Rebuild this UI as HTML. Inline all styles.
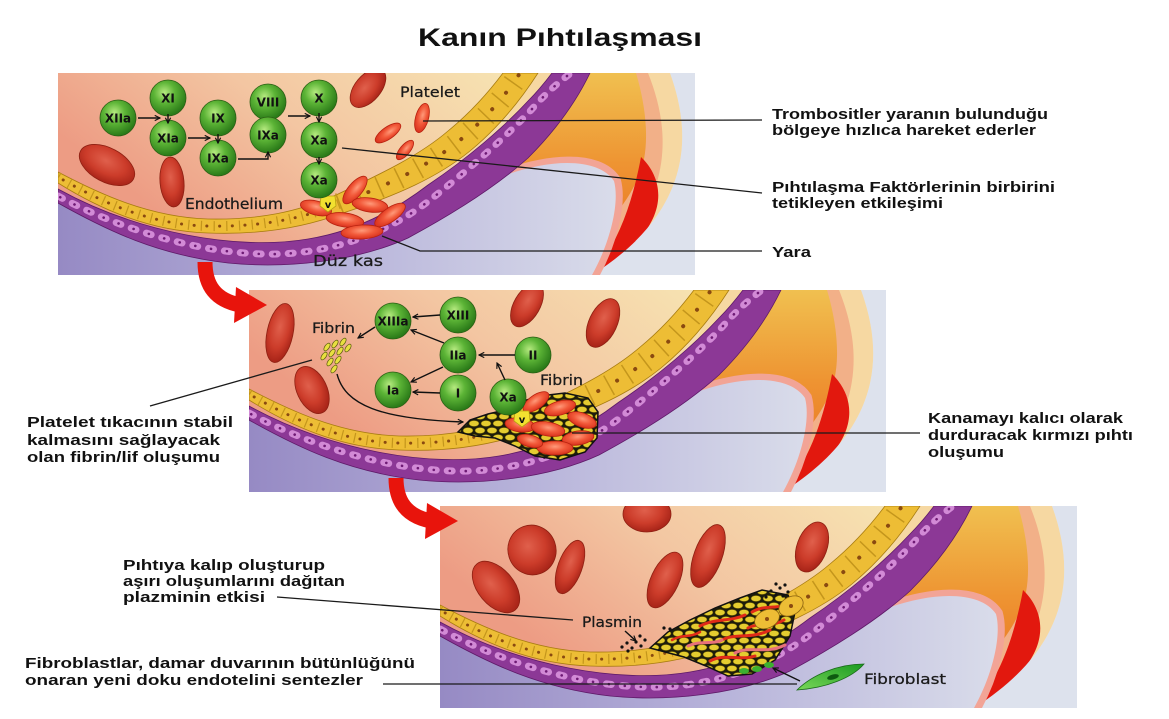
<!DOCTYPE html>
<html><head><meta charset="utf-8"><style>
html,body{margin:0;padding:0;background:#fff;}
svg{display:block;}
.t{font-family:"Liberation Sans","DejaVu Sans",sans-serif;font-weight:bold;font-size:15px;fill:#111;}
.l{font-family:"DejaVu Sans","Liberation Sans",sans-serif;fill:#1a1a1a;stroke:#1a1a1a;stroke-width:0.25;}
.f{font-family:"DejaVu Sans","Liberation Sans",sans-serif;font-weight:bold;font-size:12px;fill:#111;text-anchor:middle;}
.c{fill:url(#grn);stroke:#2b5e14;stroke-width:0.8;}
.r{fill:url(#rbc);stroke:#8e2012;stroke-width:0.8;}
.p{fill:url(#plt);stroke:#b8220f;stroke-width:0.8;}
.k{stroke:#1a1a1a;stroke-width:1.3;fill:none;}
.a{stroke:#111;stroke-width:1.4;fill:none;marker-end:url(#ah);}
</style></head><body>
<svg width="1169" height="719" viewBox="0 0 1169 719" xmlns="http://www.w3.org/2000/svg">
<defs>
<linearGradient id="lum" x1="0" y1="0.3" x2="0.75" y2="0"><stop offset="0" stop-color="#ed9c84"/><stop offset="0.45" stop-color="#f3c6a2"/><stop offset="1" stop-color="#f7e6b3"/></linearGradient>
<linearGradient id="low" x1="0" y1="0" x2="1" y2="0"><stop offset="0" stop-color="#968ac4"/><stop offset="0.5" stop-color="#b7b3da"/><stop offset="1" stop-color="#d9dcea"/></linearGradient>
<linearGradient id="org" x1="0" y1="0" x2="0" y2="1"><stop offset="0" stop-color="#f0c050"/><stop offset="0.45" stop-color="#ee9432"/><stop offset="1" stop-color="#e86a20"/></linearGradient>
<radialGradient id="rbc" cx="0.45" cy="0.4" r="0.6"><stop offset="0" stop-color="#e0604c"/><stop offset="0.6" stop-color="#cc3c2a"/><stop offset="1" stop-color="#a82418"/></radialGradient>
<radialGradient id="plt" cx="0.5" cy="0.4" r="0.6"><stop offset="0" stop-color="#ff9a7a"/><stop offset="0.5" stop-color="#f25a3a"/><stop offset="1" stop-color="#d8301c"/></radialGradient>
<radialGradient id="grn" cx="0.4" cy="0.35" r="0.65"><stop offset="0" stop-color="#b6ea80"/><stop offset="0.45" stop-color="#5cb436"/><stop offset="1" stop-color="#2a7a18"/></radialGradient>
<linearGradient id="fib" x1="0" y1="1" x2="1" y2="0"><stop offset="0" stop-color="#7ad85a"/><stop offset="1" stop-color="#1a9a20"/></linearGradient>
<pattern id="cp" width="12" height="14" patternUnits="userSpaceOnUse">
<rect width="12" height="14" fill="#1c1c0c"/>
<ellipse cx="6" cy="3.5" rx="5" ry="3" fill="#e4cc30" stroke="#6a5a00" stroke-width="0.5"/>
<ellipse cx="0" cy="10.5" rx="5" ry="3" fill="#e4cc30" stroke="#6a5a00" stroke-width="0.5"/>
<ellipse cx="12" cy="10.5" rx="5" ry="3" fill="#e4cc30" stroke="#6a5a00" stroke-width="0.5"/>
</pattern>
<marker id="ah" viewBox="0 0 8 8" refX="7" refY="4" markerWidth="7" markerHeight="7" orient="auto" markerUnits="userSpaceOnUse">
<path d="M1,1 L7,4 L1,7" fill="none" stroke="#111" stroke-width="1.3"/>
</marker>
<clipPath id="c1"><rect x="58" y="73" width="637" height="202"/></clipPath>
<clipPath id="c2"><rect x="249" y="290" width="637" height="202"/></clipPath>
<clipPath id="c3"><rect x="440" y="506" width="637" height="202"/></clipPath>
<clipPath id="cl"><rect x="0" y="0" width="637" height="202"/></clipPath>
<g id="bg" clip-path="url(#cl)">
<rect width="637" height="202" fill="url(#lum)"/>
<path d="M470,0 L612,0 C632,55 640,135 534,202 L380,202 Z" fill="#f6d8a2"/>
<path d="M500,0 L590,0 C612,55 620,128 534,202 L380,202 Z" fill="#f2b088"/>
<path d="M500,0 L578,0 C590,40 592,80 580,105 C560,150 520,180 470,202 L380,202 Z" fill="url(#org)"/>
<path d="M583,84 C612,112 610,160 534,202 C560,170 574,132 583,84 Z" fill="#e2180e"/>
<path d="M612,0 C632,55 640,135 534,202 L637,202 L637,0 Z" fill="#dde2ed"/>
<path d="M430,110 C490,85 540,84 556,108 C562,130 552,170 534,202" fill="none" stroke="#f2a496" stroke-width="14"/>
<path d="M0,122 C90,175 200,195 290,178 C350,160 400,120 440,105 C490,85 540,84 556,108 C562,130 552,170 534,202 L0,202 Z" fill="url(#low)"/>
<path d="M0,99 C40,120 90,144 150,146 C200,147 240,139 278,122 C325,100 362,82 390,58 C412,40 430,20 445,0 L480,0 C462,28 440,55 412,78 C380,104 340,122 285,140 C245,155 200,162 150,160 C90,158 40,135 0,110 Z" fill="#edbd35" stroke="#a87c10" stroke-width="0.8"/>
<path d="M0,104 C40,127 90,152 150,153 C200,154 240,147 281,131" fill="none" stroke="#c4961c" stroke-width="10" stroke-dasharray="1.2 11.5"/>
<path d="M0,104 C40,127 90,152 150,153 C200,154 240,147 281,131" fill="none" stroke="#8a4a10" stroke-width="3" stroke-linecap="round" stroke-dasharray="0.1 12.6" stroke-dashoffset="-6"/>
<path d="M281,131 C332,111 370,93 401,68 C425,48 446,25 462,0" fill="none" stroke="#c4961c" stroke-width="22" stroke-dasharray="1.5 20"/>
<path d="M281,131 C332,111 370,93 401,68 C425,48 446,25 462,0" fill="none" stroke="#8a4a10" stroke-width="4" stroke-linecap="round" stroke-dasharray="0.1 21.4" stroke-dashoffset="-10"/>
<path d="M0,116 C80,160 180,178 250,166 C300,158 340,135 370,112 C410,85 445,55 470,28 C480,18 488,8 494,0 L532,0 C520,25 500,55 470,85 C440,112 400,138 350,165 C300,188 230,196 170,190 C100,182 50,158 0,130 Z" fill="#8c3896" stroke="#5e1a68" stroke-width="0.8"/>
<path d="M0,123 C80,166 180,190 252,178 C305,170 345,148 372,127 C410,97 448,64 474,36 C488,20 502,8 513,0" fill="none" stroke="#d28ad6" stroke-width="7" stroke-linecap="round" stroke-dasharray="5 11"/>
<path d="M0,123 C80,166 180,190 252,178 C305,170 345,148 372,127 C410,97 448,64 474,36 C488,20 502,8 513,0" fill="none" stroke="#6e1a74" stroke-width="2.6" stroke-linecap="round" stroke-dasharray="0.1 15.9" stroke-dashoffset="-2.5"/>
</g>
</defs>

<!-- Title -->
<text x="418" y="46" font-family="Liberation Sans, DejaVu Sans, sans-serif" font-weight="bold" font-size="25" fill="#111" textLength="284" lengthAdjust="spacingAndGlyphs">Kanın Pıhtılaşması</text>

<!-- Panels backgrounds -->
<use href="#bg" x="58" y="73"/>
<use href="#bg" x="249" y="290"/>
<use href="#bg" x="440" y="506"/>

<!-- Panel 1 -->
<g clip-path="url(#c1)">
<ellipse class="r" cx="107" cy="165" rx="30" ry="17" transform="rotate(28 107 165)"/>
<ellipse class="r" cx="172" cy="182" rx="12" ry="25" transform="rotate(-5 172 182)"/>
<ellipse class="r" cx="368" cy="88" rx="23" ry="13" transform="rotate(-50 368 88)"/>
<ellipse class="p" cx="422" cy="118" rx="6.5" ry="15" transform="rotate(15 422 118)"/>
<ellipse class="p" cx="388" cy="133" rx="6" ry="15" transform="rotate(55 388 133)"/>
<ellipse class="p" cx="405" cy="150" rx="5" ry="12" transform="rotate(40 405 150)"/>
<ellipse class="p" cx="355" cy="190" rx="7" ry="17" transform="rotate(40 355 190)"/>
<ellipse class="p" cx="316" cy="208" rx="16" ry="7" transform="rotate(15 316 208)"/>
<ellipse class="p" cx="370" cy="205" rx="18" ry="7" transform="rotate(8 370 205)"/>
<ellipse class="p" cx="345" cy="220" rx="19" ry="7" transform="rotate(8 345 220)"/>
<ellipse class="p" cx="390" cy="215" rx="7" ry="18" transform="rotate(55 390 215)"/>
<ellipse class="p" cx="362" cy="232" rx="21" ry="7" transform="rotate(-3 362 232)"/>
<polygon points="321,196 335,196 336,206 328,212 320,206" fill="#f2e030" stroke="#b8a010" stroke-width="0.8"/>
<text x="328" y="208" font-family="DejaVu Sans, sans-serif" font-weight="bold" font-size="10" text-anchor="middle" fill="#111">v</text>
<circle class="c" cx="118" cy="118" r="18"/><text class="f" x="118" y="122.5">XIIa</text>
<circle class="c" cx="168" cy="98" r="18"/><text class="f" x="168" y="102.5">XI</text>
<circle class="c" cx="168" cy="138" r="18"/><text class="f" x="168" y="142.5">XIa</text>
<circle class="c" cx="218" cy="118" r="18"/><text class="f" x="218" y="122.5">IX</text>
<circle class="c" cx="218" cy="158" r="18"/><text class="f" x="218" y="162.5">IXa</text>
<circle class="c" cx="268" cy="102" r="18"/><text class="f" x="268" y="106.5">VIII</text>
<circle class="c" cx="268" cy="135" r="18"/><text class="f" x="268" y="139.5">IXa</text>
<circle class="c" cx="319" cy="98" r="18"/><text class="f" x="319" y="102.5">X</text>
<circle class="c" cx="319" cy="140" r="18"/><text class="f" x="319" y="144.5">Xa</text>
<circle class="c" cx="319" cy="180" r="18"/><text class="f" x="319" y="184.5">Xa</text>
<path class="a" d="M138,118 L160,118"/>
<path class="a" d="M168,114 L168,123"/>
<path class="a" d="M188,138 L210,138"/>
<path class="a" d="M218,134 L218,143"/>
<path class="a" d="M238,159 L268,159 L268,152"/>
<path class="a" d="M288,116 L310,116"/>
<path class="a" d="M319,113 L319,122"/>
<path class="a" d="M319,157 L319,164"/>
<text class="l" x="400" y="97" font-size="14.5" textLength="60" lengthAdjust="spacingAndGlyphs">Platelet</text>
<text class="l" x="185" y="209" font-size="15.5" textLength="98" lengthAdjust="spacingAndGlyphs">Endothelium</text>
<text class="l" x="313" y="266" font-size="15" textLength="70" lengthAdjust="spacingAndGlyphs">Düz kas</text>
</g>

<!-- Panel 2 -->
<g clip-path="url(#c2)">
<ellipse class="r" cx="280" cy="333" rx="13" ry="30" transform="rotate(12 280 333)"/>
<ellipse class="r" cx="312" cy="390" rx="15" ry="25" transform="rotate(-25 312 390)"/>
<ellipse class="r" cx="527" cy="305" rx="13" ry="24" transform="rotate(30 527 305)"/>
<ellipse class="r" cx="603" cy="323" rx="14" ry="26" transform="rotate(25 603 323)"/>
<polygon points="458,432 470,420 488,414 505,410 520,402 540,396 565,393 588,398 598,412 597,438 585,452 560,460 535,456 515,446 495,438 475,436" fill="url(#cp)" stroke="#111" stroke-width="1.5"/>
<ellipse class="p" cx="536" cy="402" rx="15" ry="7" transform="rotate(-35 536 402)"/>
<ellipse class="p" cx="560" cy="408" rx="16" ry="7" transform="rotate(-15 560 408)"/>
<ellipse class="p" cx="582" cy="420" rx="15" ry="7" transform="rotate(20 582 420)"/>
<ellipse class="p" cx="520" cy="425" rx="15" ry="7" transform="rotate(8 520 425)"/>
<ellipse class="p" cx="548" cy="429" rx="17" ry="7" transform="rotate(10 548 429)"/>
<ellipse class="p" cx="578" cy="438" rx="16" ry="7" transform="rotate(-8 578 438)"/>
<ellipse class="p" cx="555" cy="448" rx="18" ry="7"/>
<ellipse class="p" cx="530" cy="441" rx="13" ry="6" transform="rotate(15 530 441)"/>
<polygon points="515,411 529,411 530,421 522,427 514,421" fill="#f2e030" stroke="#b8a010" stroke-width="0.8"/>
<text x="522" y="423" font-family="DejaVu Sans, sans-serif" font-weight="bold" font-size="10" text-anchor="middle" fill="#111">v</text>
<g fill="#e8e040" stroke="#5a5a10" stroke-width="0.7">
<ellipse cx="327" cy="347" rx="4.5" ry="2.2" transform="rotate(-55 327 347)"/>
<ellipse cx="335" cy="344" rx="4.5" ry="2.2" transform="rotate(-55 335 344)"/>
<ellipse cx="343" cy="342" rx="4.5" ry="2.2" transform="rotate(-55 343 342)"/>
<ellipse cx="324" cy="356" rx="4.5" ry="2.2" transform="rotate(-55 324 356)"/>
<ellipse cx="332" cy="353" rx="4.5" ry="2.2" transform="rotate(-55 332 353)"/>
<ellipse cx="340" cy="351" rx="4.5" ry="2.2" transform="rotate(-55 340 351)"/>
<ellipse cx="348" cy="348" rx="4.5" ry="2.2" transform="rotate(-55 348 348)"/>
<ellipse cx="330" cy="362" rx="4.5" ry="2.2" transform="rotate(-55 330 362)"/>
<ellipse cx="338" cy="360" rx="4.5" ry="2.2" transform="rotate(-55 338 360)"/>
<ellipse cx="334" cy="369" rx="4.5" ry="2.2" transform="rotate(-55 334 369)"/>
</g>
<circle class="c" cx="393" cy="321" r="18"/><text class="f" x="393" y="325.5" textLength="31" lengthAdjust="spacingAndGlyphs">XIIIa</text>
<circle class="c" cx="458" cy="315" r="18"/><text class="f" x="458" y="319.5">XIII</text>
<circle class="c" cx="458" cy="355" r="18"/><text class="f" x="458" y="359.5">IIa</text>
<circle class="c" cx="533" cy="355" r="18"/><text class="f" x="533" y="359.5">II</text>
<circle class="c" cx="393" cy="390" r="18"/><text class="f" x="393" y="394.5">Ia</text>
<circle class="c" cx="458" cy="393" r="18"/><text class="f" x="458" y="397.5">I</text>
<circle class="c" cx="508" cy="397" r="18"/><text class="f" x="508" y="401.5">Xa</text>
<path class="a" d="M440,315 L413,317"/>
<path class="a" d="M444,343 L411,330"/>
<path class="a" d="M443,367 L411,382"/>
<path class="a" d="M440,393 L413,392"/>
<path class="a" d="M515,355 L479,355"/>
<path class="a" d="M505,380 L497,363"/>
<path class="a" d="M375,327 L358,338"/>
<path class="a" d="M337,374 C345,405 380,419 463,422"/>
<text class="l" x="312" y="333" font-size="14" textLength="43" lengthAdjust="spacingAndGlyphs">Fibrin</text>
<text class="l" x="540" y="385" font-size="14" textLength="43" lengthAdjust="spacingAndGlyphs">Fibrin</text>
</g>

<!-- Panel 3 -->
<g clip-path="url(#c3)">
<ellipse class="r" cx="532" cy="550" rx="24" ry="25" transform="rotate(-20 532 550)"/>
<ellipse class="r" cx="496" cy="587" rx="18" ry="30" transform="rotate(-40 496 587)"/>
<ellipse class="r" cx="570" cy="567" rx="12" ry="28" transform="rotate(20 570 567)"/>
<ellipse class="r" cx="647" cy="514" rx="24" ry="18"/>
<ellipse class="r" cx="665" cy="580" rx="14" ry="30" transform="rotate(25 665 580)"/>
<ellipse class="r" cx="708" cy="556" rx="14" ry="33" transform="rotate(20 708 556)"/>
<ellipse class="r" cx="812" cy="547" rx="15" ry="26" transform="rotate(20 812 547)"/>
<polygon points="650,648 668,632 690,620 715,608 740,598 762,590 788,595 795,612 790,636 775,660 752,674 728,676 706,666 684,657" fill="url(#cp)" stroke="#111" stroke-width="1.5"/>
<g fill="none" stroke-linecap="round">
<path d="M700,626 C715,618 730,622 745,615" stroke="#e02a18" stroke-width="3"/>
<path d="M720,641 C735,632 750,640 770,630" stroke="#e02a18" stroke-width="3"/>
<path d="M735,653 C750,645 765,655 785,645" stroke="#e8707a" stroke-width="3"/>
<path d="M752,612 C765,604 778,610 790,603" stroke="#e02a18" stroke-width="3"/>
<path d="M688,646 C700,640 712,645 722,640" stroke="#e8707a" stroke-width="3"/>
<path d="M748,628 C758,622 770,628 784,620" stroke="#e02a18" stroke-width="3"/>
<path d="M710,661 C725,653 740,661 755,656" stroke="#e02a18" stroke-width="3"/>
<path d="M672,640 C682,634 690,638 700,632" stroke="#e02a18" stroke-width="2.5"/>
</g>
<ellipse cx="767" cy="619" rx="13" ry="9" fill="#edbd35" stroke="#8a6010" stroke-width="0.8" transform="rotate(-25 767 619)"/>
<ellipse cx="791" cy="606" rx="13" ry="9" fill="#edbd35" stroke="#8a6010" stroke-width="0.8" transform="rotate(-30 791 606)"/>
<circle cx="767" cy="619" r="2" fill="#8a4a10"/><circle cx="791" cy="606" r="2" fill="#8a4a10"/>
<g fill="#3cb030"><ellipse cx="744" cy="671" rx="5" ry="3"/><ellipse cx="757" cy="669" rx="5" ry="3"/><ellipse cx="769" cy="665" rx="5" ry="3"/></g>
<g fill="#111">
<circle cx="622" cy="647" r="1.6"/><circle cx="627" cy="643" r="1.6"/><circle cx="632" cy="648" r="1.6"/><circle cx="636" cy="642" r="1.6"/><circle cx="641" cy="646" r="1.6"/><circle cx="645" cy="640" r="1.6"/><circle cx="640" cy="636" r="1.6"/><circle cx="628" cy="651" r="1.6"/>
<circle cx="664" cy="628" r="1.6"/><circle cx="670" cy="629" r="1.6"/>
<circle cx="766" cy="597" r="1.6"/><circle cx="771" cy="591" r="1.6"/><circle cx="776" cy="595" r="1.6"/><circle cx="780" cy="588" r="1.6"/><circle cx="785" cy="585" r="1.6"/><circle cx="788" cy="592" r="1.6"/><circle cx="776" cy="584" r="1.6"/><circle cx="783" cy="596" r="1.6"/>
</g>
<path class="a" d="M625,631 L636,641"/>
<path class="a" d="M800,681 L773,668"/>
<path d="M797,690 C812,675 838,664 864,664 C852,678 826,688 797,690 Z" fill="url(#fib)" stroke="#1a6a1a" stroke-width="0.8"/>
<ellipse cx="833" cy="677" rx="6" ry="2.5" transform="rotate(-15 833 677)" fill="#0e5a10"/>
<text class="l" x="582" y="627" font-size="14.5" textLength="60" lengthAdjust="spacingAndGlyphs">Plasmin</text>
<text class="l" x="864" y="684" font-size="14.5" textLength="82" lengthAdjust="spacingAndGlyphs">Fibroblast</text>
</g>

<!-- Connectors -->
<path class="k" d="M423,121 L762,120"/>
<path class="k" d="M342,148 L762,193"/>
<path class="k" d="M382,236 L420,251 L762,251"/>
<path class="k" d="M150,406 L312,360"/>
<path class="k" d="M572,433 L920,433"/>
<path class="k" d="M277,597 L573,620"/>
<path class="k" d="M383,684 L797,684"/>

<!-- Red arrows -->
<path d="M205,262 C205,285 215,300 240,305" fill="none" stroke="#e8140c" stroke-width="15"/>
<polygon points="236,287 267,305 234,323" fill="#e8140c"/>
<path d="M396,478 C396,501 406,516 431,521" fill="none" stroke="#e8140c" stroke-width="15"/>
<polygon points="427,503 458,521 425,539" fill="#e8140c"/>

<!-- Text annotations -->
<text class="t" x="772" y="119" textLength="276" lengthAdjust="spacingAndGlyphs">Trombositler yaranın bulunduğu</text>
<text class="t" x="772" y="135" textLength="264" lengthAdjust="spacingAndGlyphs">bölgeye hızlıca hareket ederler</text>
<text class="t" x="772" y="192" textLength="283" lengthAdjust="spacingAndGlyphs">Pıhtılaşma Faktörlerinin birbirini</text>
<text class="t" x="772" y="208" textLength="171" lengthAdjust="spacingAndGlyphs">tetikleyen etkileşimi</text>
<text class="t" x="772" y="257" textLength="39" lengthAdjust="spacingAndGlyphs">Yara</text>

<text class="t" x="27" y="427" textLength="206" lengthAdjust="spacingAndGlyphs">Platelet tıkacının stabil</text>
<text class="t" x="27" y="445" textLength="193" lengthAdjust="spacingAndGlyphs">kalmasını sağlayacak</text>
<text class="t" x="27" y="462" textLength="193" lengthAdjust="spacingAndGlyphs">olan fibrin/lif oluşumu</text>

<text class="t" x="928" y="423" textLength="195" lengthAdjust="spacingAndGlyphs">Kanamayı kalıcı olarak</text>
<text class="t" x="928" y="440" textLength="205" lengthAdjust="spacingAndGlyphs">durduracak kırmızı pıhtı</text>
<text class="t" x="928" y="457" textLength="76" lengthAdjust="spacingAndGlyphs">oluşumu</text>

<text class="t" x="123" y="570" textLength="202" lengthAdjust="spacingAndGlyphs">Pıhtıya kalıp oluşturup</text>
<text class="t" x="123" y="586" textLength="222" lengthAdjust="spacingAndGlyphs">aşırı oluşumlarını dağıtan</text>
<text class="t" x="123" y="602" textLength="142" lengthAdjust="spacingAndGlyphs">plazminin etkisi</text>

<text class="t" x="25" y="668" textLength="390" lengthAdjust="spacingAndGlyphs">Fibroblastlar, damar duvarının bütünlüğünü</text>
<text class="t" x="25" y="685" textLength="338" lengthAdjust="spacingAndGlyphs">onaran yeni doku endotelini sentezler</text>
</svg>
</body></html>
